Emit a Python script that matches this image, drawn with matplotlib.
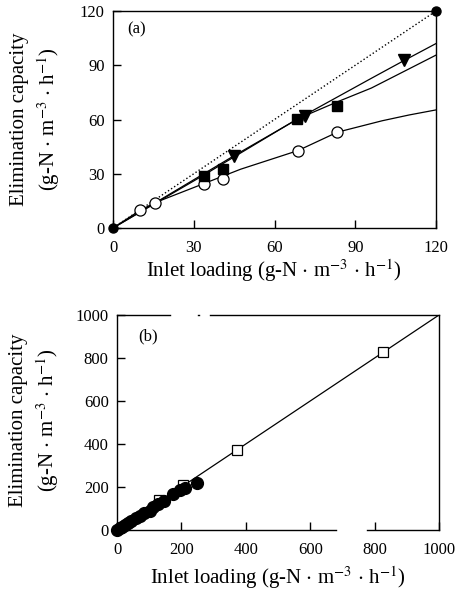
import numpy as np
import matplotlib
matplotlib.use('Agg')
import matplotlib.pyplot as plt

plt.rcParams['font.family'] = ['Liberation Serif', 'DejaVu Serif']
plt.rcParams['mathtext.fontset'] = 'stix'

# ---- panel (a) data ----
ref_x = [0, 120]
ref_y = [0, 120]
fill_x = [0, 68.7, 120]
fill_y = [0, 60.1, 120]
tri_x = [44.8, 71.3, 108]
tri_y = [40.0, 62.0, 93.0]
sq_x = [33.7, 40.9, 68.3, 83.4]
sq_y = [28.8, 32.5, 60.5, 67.5]
circ_x = [10.1, 15.6, 33.9, 40.7, 68.7, 83.4]
circ_y = [10.0, 14.0, 24.3, 27.1, 42.8, 53.1]

# fitted curves (traced)
tri_fit_x = [0, 45, 71, 96, 108, 120]
tri_fit_y = [0, 40, 62.3, 82.8, 92.5, 102]
sq_fit_x = [0, 34, 68.5, 83.4, 96, 120]
sq_fit_y = [0, 29.5, 60.3, 69.8, 77.4, 95.6]
circ_fit_x = [0, 10.1, 15.6, 34, 47.4, 68.7, 83.4, 100, 110, 120]
circ_fit_y = [0, 9.8, 14.0, 24.7, 32.5, 42.8, 53.0, 59.3, 62.5, 65.3]

# ---- panel (b) data ----
b_fill_x = [0, 8, 15, 25, 35, 45, 60, 72, 85, 102, 112, 128, 145, 175, 195, 210, 248]
b_fill_y = [0, 8, 15, 24, 33, 42, 56, 66, 80, 88, 108, 120, 133, 168, 185, 195, 218]
b_sq_x = [130, 205, 372, 826]
b_sq_y = [138, 208, 370, 826]
b_line_x = [0, 1000]
b_line_y = [0, 1000]

xlab = 'Inlet loading (g-N $\\cdot$ m$^{-3}$ $\\cdot$ h$^{-1}$)'
ylab = 'Elimination capacity\n(g-N $\\cdot$ m$^{-3}$ $\\cdot$ h$^{-1}$)'

W, H = 458, 596
fig = plt.figure(figsize=(W / 100, H / 100), dpi=100)

def style_axes(ax):
    for s in ax.spines.values():
        s.set_linewidth(1.0)
    ax.tick_params(direction='in', length=6, width=1.0, labelsize=12,
                   top=False, right=False)
    ax.tick_params(axis='x', pad=9)
    ax.tick_params(axis='y', pad=6)

# panel (a)
ax1 = fig.add_axes([113 / W, 1 - 228 / H, 323 / W, 217 / H])
style_axes(ax1)
ax1.plot(ref_x, ref_y, ':', color='k', lw=1.0)
ax1.plot(tri_fit_x, tri_fit_y, '-', color='k', lw=0.9)
ax1.plot(sq_fit_x, sq_fit_y, '-', color='k', lw=0.9)
ax1.plot(circ_fit_x, circ_fit_y, '-', color='k', lw=0.9)
ax1.plot(circ_x, circ_y, 'o', ms=8, mfc='white', mec='k', mew=0.9, ls='none', zorder=5)
ax1.plot(sq_x, sq_y, 's', ms=6.5, mfc='k', mec='k', ls='none', zorder=6)
ax1.plot(tri_x, tri_y, 'v', ms=8, mfc='k', mec='k', ls='none', zorder=6)
ax1.plot(fill_x, fill_y, 'o', ms=6.5, mfc='k', mec='k', ls='none', zorder=7, clip_on=False)
ax1.set_xlim(0, 120)
ax1.set_ylim(0, 120)
ax1.set_xticks([0, 30, 60, 90, 120])
ax1.set_yticks([0, 30, 60, 90, 120])
ax1.text(0.074, 0.917, '(a)', transform=ax1.transAxes, fontsize=12,
         ha='center', va='center')

# panel (b)
ax2 = fig.add_axes([117 / W, 1 - 530 / H, 322 / W, 215 / H])
style_axes(ax2)
ax2.plot(b_line_x, b_line_y, '-', color='k', lw=0.9)
ax2.plot(b_sq_x, b_sq_y, 's', ms=7.5, mfc='white', mec='k', mew=0.9, ls='none', zorder=5)
ax2.plot(b_fill_x, b_fill_y, 'o', ms=8.5, mfc='k', mec='k', ls='none', zorder=6, clip_on=False)
ax2.set_xlim(0, 1000)
ax2.set_ylim(0, 1000)
ax2.set_xticks(np.arange(0, 1001, 200))
ax2.set_yticks(np.arange(0, 1001, 200))
ax2.text(0.096, 0.902, '(b)', transform=ax2.transAxes, fontsize=12,
         ha='center', va='center')

# broken top/bottom spines as in the scanned figure
ax2.spines['top'].set_visible(False)
ax2.spines['bottom'].set_visible(False)
for x0, x1 in [(0, 0.165), (0.25, 0.255), (0.289, 1.0)]:
    ax2.plot([x0, x1], [1, 1], color='k', lw=1.0, transform=ax2.transAxes, clip_on=False)
for x0, x1 in [(0, 0.68), (0.776, 1.0)]:
    ax2.plot([x0, x1], [0, 0], color='k', lw=1.0, transform=ax2.transAxes, clip_on=False)

# labels
fig.text(274 / W, 1 - 271 / H, xlab, fontsize=15, ha='center', va='center')
fig.text(278 / W, 1 - 578 / H, xlab, fontsize=15, ha='center', va='center')
fig.text(36 / W, 1 - 119 / H, ylab, fontsize=15, ha='center', va='center',
         rotation=90, multialignment='center', linespacing=1.3)
fig.text(35 / W, 1 - 420 / H, ylab, fontsize=15, ha='center', va='center',
         rotation=90, multialignment='center', linespacing=1.3)

fig.savefig('out.png', dpi=100)
